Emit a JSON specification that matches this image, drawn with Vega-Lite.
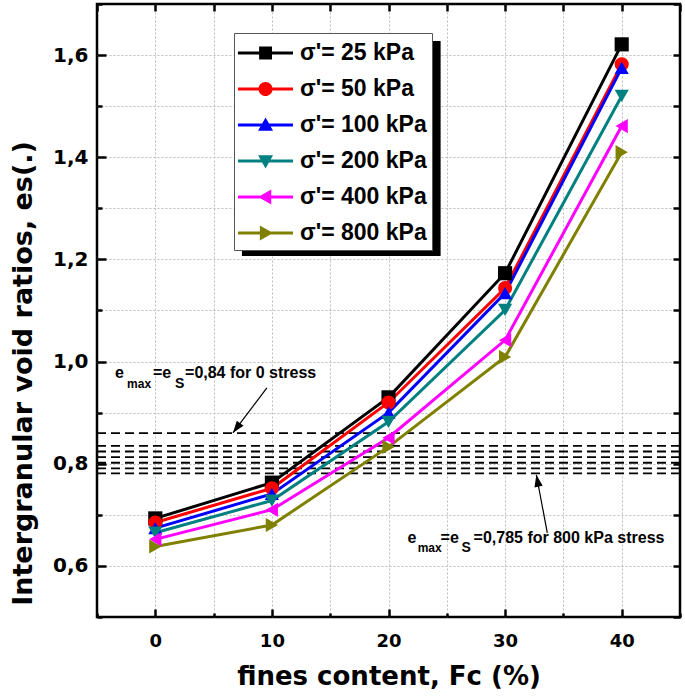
{
  "$schema": "https://vega.github.io/schema/vega-lite/v6.json",
  "width": 583,
  "height": 613,
  "autosize": {"type": "none"},
  "padding": {"left": 97, "top": 4, "right": 5, "bottom": 82},
  "background": "white",
  "config": {
    "view": {"stroke": "black", "strokeWidth": 2.5},
    "axis": {"domain": false}
  },
  "datasets": {
    "series": [
      {"fc": 0, "es": 0.693, "p": 25}, {"fc": 10, "es": 0.763, "p": 25}, {"fc": 20, "es": 0.93, "p": 25}, {"fc": 30, "es": 1.173, "p": 25}, {"fc": 40, "es": 1.621, "p": 25},
      {"fc": 0, "es": 0.685, "p": 50}, {"fc": 10, "es": 0.752, "p": 50}, {"fc": 20, "es": 0.92, "p": 50}, {"fc": 30, "es": 1.144, "p": 50}, {"fc": 40, "es": 1.582, "p": 50},
      {"fc": 0, "es": 0.674, "p": 100}, {"fc": 10, "es": 0.741, "p": 100}, {"fc": 20, "es": 0.90, "p": 100}, {"fc": 30, "es": 1.134, "p": 100}, {"fc": 40, "es": 1.575, "p": 100},
      {"fc": 0, "es": 0.665, "p": 200}, {"fc": 10, "es": 0.728, "p": 200}, {"fc": 20, "es": 0.882, "p": 200}, {"fc": 30, "es": 1.101, "p": 200}, {"fc": 40, "es": 1.52, "p": 200},
      {"fc": 0, "es": 0.652, "p": 400}, {"fc": 10, "es": 0.71, "p": 400}, {"fc": 20, "es": 0.851, "p": 400}, {"fc": 30, "es": 1.042, "p": 400}, {"fc": 40, "es": 1.461, "p": 400},
      {"fc": 0, "es": 0.638, "p": 800}, {"fc": 10, "es": 0.68, "p": 800}, {"fc": 20, "es": 0.833, "p": 800}, {"fc": 30, "es": 1.009, "p": 800}, {"fc": 40, "es": 1.41, "p": 800}
    ],
    "dash": [{"e": 0.86}, {"e": 0.835}, {"e": 0.824}, {"e": 0.813}, {"e": 0.802}, {"e": 0.791}, {"e": 0.781}],
    "arrows": [
      {"x1": 9.57, "y1": 0.9485, "x2": 6.66, "y2": 0.8605},
      {"x1": 33.62, "y1": 0.6648, "x2": 32.68, "y2": 0.7783}
    ],
    "mainText": [
      {"x": -3.45, "y": 0.968, "t": "e"},
      {"x": -0.2, "y": 0.968, "t": "=e"},
      {"x": 2.55, "y": 0.968, "t": "=0,84 for 0 stress"},
      {"x": 21.64, "y": 0.6452, "t": "e"},
      {"x": 24.47, "y": 0.6452, "t": "=e"},
      {"x": 27.3, "y": 0.6452, "t": "=0,785 for 800 kPa stress"}
    ],
    "subMax": [
      {"x": -2.42, "y": 0.9485, "t": "max"},
      {"x": 22.5, "y": 0.6276, "t": "max"}
    ],
    "subS": [
      {"x": 1.69, "y": 0.9485, "t": "S"},
      {"x": 26.27, "y": 0.6276, "t": "S"}
    ]
  },
  "layer": [
    {
      "data": {"values": [{}]},
      "mark": {"type": "rect", "fill": "black"},
      "encoding": {
        "x": {"datum": 7.43, "type": "quantitative", "scale": {"domain": [-5, 45], "nice": false, "zero": false}, "axis": null},
        "x2": {"datum": 24.47},
        "y": {"datum": 1.6276, "type": "quantitative", "scale": {"domain": [0.5, 1.7], "nice": false, "zero": false}, "axis": null},
        "y2": {"datum": 1.2068}
      }
    },
    {
      "data": {"name": "dash"},
      "mark": {"type": "rule", "color": "black", "strokeWidth": 1.8, "strokeDash": [9, 5]},
      "encoding": {
        "y": {
          "field": "e", "type": "quantitative",
          "scale": {"domain": [0.5, 1.7], "nice": false, "zero": false},
          "axis": {
            "orient": "left",
            "values": [0.5, 0.6, 0.7, 0.8, 0.9, 1.0, 1.1, 1.2, 1.3, 1.4, 1.5, 1.6, 1.7],
            "labelExpr": "round(datum.value*10) % 2 === 0 ? replace(format(datum.value, '.1f'), '.', ',') : ''",
            "grid": true, "gridDash": [2, 2], "gridColor": "#bdbdbd", "gridWidth": 1,
            "gridOpacity": {"condition": {"test": "datum.value < 0.55 || datum.value > 1.65", "value": 0}, "value": 1},
            "tickSize": {"condition": {"test": "round(datum.value*10) % 2 === 0", "value": -9}, "value": -5},
            "tickWidth": 2.5, "tickColor": "black",
            "labelFont": "DejaVu Sans", "labelFontWeight": "bold", "labelFontSize": 20, "labelColor": "black",
            "labelPadding": 18,
            "title": "Intergranular void ratios, es(.)",
            "titleFont": "DejaVu Sans", "titleFontSize": 27, "titleFontWeight": "bold", "titleColor": "black",
            "titlePadding": 15, "titleY": 369
          }
        }
      }
    },
    {
      "data": {"name": "series"},
      "mark": {"type": "line", "strokeWidth": 3},
      "encoding": {
        "x": {
          "field": "fc", "type": "quantitative",
          "scale": {"domain": [-5, 45], "nice": false, "zero": false},
          "axis": {
            "orient": "bottom",
            "values": [-5, 0, 5, 10, 15, 20, 25, 30, 35, 40, 45],
            "labelExpr": "datum.value % 10 === 0 ? datum.label : ''",
            "grid": true, "gridDash": [2, 2], "gridColor": "#bdbdbd", "gridWidth": 1,
            "gridOpacity": {"condition": {"test": "datum.value < -4 || datum.value > 44", "value": 0}, "value": 1},
            "tickSize": {"condition": {"test": "datum.value % 10 === 0", "value": -8}, "value": -4},
            "tickWidth": 2.5, "tickColor": "black",
            "labelFont": "DejaVu Sans", "labelFontWeight": "bold", "labelFontSize": 18, "labelColor": "black",
            "labelPadding": 23,
            "title": "fines content, Fc (%)",
            "titleFont": "DejaVu Sans", "titleFontSize": 26, "titleFontWeight": "bold", "titleColor": "black",
            "titlePadding": 13
          }
        },
        "y": {"field": "es", "type": "quantitative", "axis": null},
        "color": {
          "field": "p", "type": "nominal",
          "scale": {"domain": [25, 50, 100, 200, 400, 800], "range": ["#000000", "#ff0000", "#0000ff", "#008080", "#ff00ff", "#808000"]},
          "legend": null
        },
        "detail": {"field": "p", "type": "nominal"}
      }
    },
    {
      "data": {"name": "series"},
      "mark": {"type": "point", "filled": true, "opacity": 1, "size": 200},
      "encoding": {
        "x": {
          "field": "fc", "type": "quantitative",
          "axis": {"orient": "top", "values": [-5, 0, 5, 10, 15, 20, 25, 30, 35, 40, 45], "labels": false, "grid": false, "tickSize": -7, "tickWidth": 2.5, "tickColor": "black", "title": null}
        },
        "y": {
          "field": "es", "type": "quantitative",
          "axis": {"orient": "right", "values": [0.5, 0.6, 0.7, 0.8, 0.9, 1.0, 1.1, 1.2, 1.3, 1.4, 1.5, 1.6, 1.7], "labels": false, "grid": false, "tickSize": -7, "tickWidth": 2.5, "tickColor": "black", "title": null}
        },
        "color": {
          "field": "p", "type": "nominal",
          "scale": {"domain": [25, 50, 100, 200, 400, 800], "range": ["#000000", "#ff0000", "#0000ff", "#008080", "#ff00ff", "#808000"]},
          "legend": null
        },
        "shape": {
          "field": "p", "type": "nominal",
          "scale": {"domain": [25, 50, 100, 200, 400, 800], "range": ["square", "circle", "triangle-up", "triangle-down", "triangle-left", "triangle-right"]},
          "legend": null
        }
      }
    },
    {
      "data": {"name": "series"},
      "mark": {"type": "point", "filled": true, "opacity": 0, "size": 10},
      "encoding": {
        "x": {"field": "fc", "type": "quantitative", "axis": null},
        "y": {"field": "es", "type": "quantitative", "axis": null},
        "color": {
          "field": "p", "type": "nominal",
          "scale": {"domain": [25, 50, 100, 200, 400, 800], "range": ["#000000", "#ff0000", "#0000ff", "#008080", "#ff00ff", "#808000"]},
          "legend": {
            "title": null, "orient": "none", "legendX": 137, "legendY": 29,
            "fillColor": "white", "strokeColor": "#555", "padding": 5,
            "labelFont": "Liberation Sans", "labelFontSize": 23, "labelFontWeight": "bold", "labelColor": "black",
            "labelExpr": "\"σ'= \" + datum.label + \" kPa\"",
            "labelOffset": 31, "labelLimit": 300, "symbolSize": 900, "symbolStrokeWidth": 0, "rowPadding": 9, "symbolOpacity": 1
          }
        },
        "shape": {
          "field": "p", "type": "nominal",
          "scale": {
            "domain": [25, 50, 100, 200, 400, 800],
            "range": [
              "M-1.07,-0.1H2.6V0.1H-1.07Z M0.34,-0.43H1.2V0.43H0.34Z",
              "M-1.07,-0.1H2.6V0.1H-1.07Z M0.3,0A0.47,0.47 0 1,1 1.24,0A0.47,0.47 0 1,1 0.3,0Z",
              "M-1.07,-0.1H2.6V0.1H-1.07Z M0.77,-0.5L1.27,0.38L0.27,0.38Z",
              "M-1.07,-0.1H2.6V0.1H-1.07Z M0.27,-0.38L1.27,-0.38L0.77,0.5Z",
              "M-1.07,-0.1H2.6V0.1H-1.07Z M0.27,0L1.15,-0.5L1.15,0.5Z",
              "M-1.07,-0.1H2.6V0.1H-1.07Z M1.27,0L0.39,0.5L0.39,-0.5Z"
            ]
          },
          "legend": {
            "title": null, "orient": "none", "legendX": 137, "legendY": 29,
            "fillColor": "white", "strokeColor": "#555", "padding": 5,
            "labelFont": "Liberation Sans", "labelFontSize": 23, "labelFontWeight": "bold", "labelColor": "black",
            "labelExpr": "\"σ'= \" + datum.label + \" kPa\"",
            "labelOffset": 31, "labelLimit": 300, "symbolSize": 900, "symbolStrokeWidth": 0, "rowPadding": 9, "symbolOpacity": 1
          }
        }
      }
    },
    {
      "data": {"name": "arrows"},
      "mark": {"type": "rule", "color": "black", "strokeWidth": 1.2},
      "encoding": {
        "x": {"field": "x1", "type": "quantitative", "axis": null},
        "y": {"field": "y1", "type": "quantitative", "axis": null},
        "x2": {"field": "x2"},
        "y2": {"field": "y2"}
      }
    },
    {
      "data": {"values": [{"x": 6.66, "y": 0.8605}]},
      "mark": {"type": "point", "shape": "M0,0L0.35,1L-0.35,1Z", "filled": true, "color": "black", "opacity": 1, "size": 576, "angle": 217},
      "encoding": {
        "x": {"field": "x", "type": "quantitative", "axis": null},
        "y": {"field": "y", "type": "quantitative", "axis": null}
      }
    },
    {
      "data": {"values": [{"x": 32.68, "y": 0.7783}]},
      "mark": {"type": "point", "shape": "M0,0L0.35,1L-0.35,1Z", "filled": true, "color": "black", "opacity": 1, "size": 576, "angle": 349.3},
      "encoding": {
        "x": {"field": "x", "type": "quantitative", "axis": null},
        "y": {"field": "y", "type": "quantitative", "axis": null}
      }
    },
    {
      "data": {"name": "mainText"},
      "mark": {"type": "text", "font": "Liberation Sans", "fontWeight": "bold", "fontSize": 16, "align": "left", "baseline": "alphabetic", "color": "black"},
      "encoding": {
        "x": {"field": "x", "type": "quantitative", "axis": null},
        "y": {"field": "y", "type": "quantitative", "axis": null},
        "text": {"field": "t"}
      }
    },
    {
      "data": {"name": "subMax"},
      "mark": {"type": "text", "font": "Liberation Sans", "fontWeight": "bold", "fontSize": 12, "align": "left", "baseline": "alphabetic", "color": "black"},
      "encoding": {
        "x": {"field": "x", "type": "quantitative", "axis": null},
        "y": {"field": "y", "type": "quantitative", "axis": null},
        "text": {"field": "t"}
      }
    },
    {
      "data": {"name": "subS"},
      "mark": {"type": "text", "font": "Liberation Sans", "fontWeight": "bold", "fontSize": 14, "align": "left", "baseline": "alphabetic", "color": "black"},
      "encoding": {
        "x": {"field": "x", "type": "quantitative", "axis": null},
        "y": {"field": "y", "type": "quantitative", "axis": null},
        "text": {"field": "t"}
      }
    }
  ],
  "resolve": {
    "scale": {"color": "independent", "shape": "independent"},
    "axis": {"x": "independent", "y": "independent"}
  }
}
